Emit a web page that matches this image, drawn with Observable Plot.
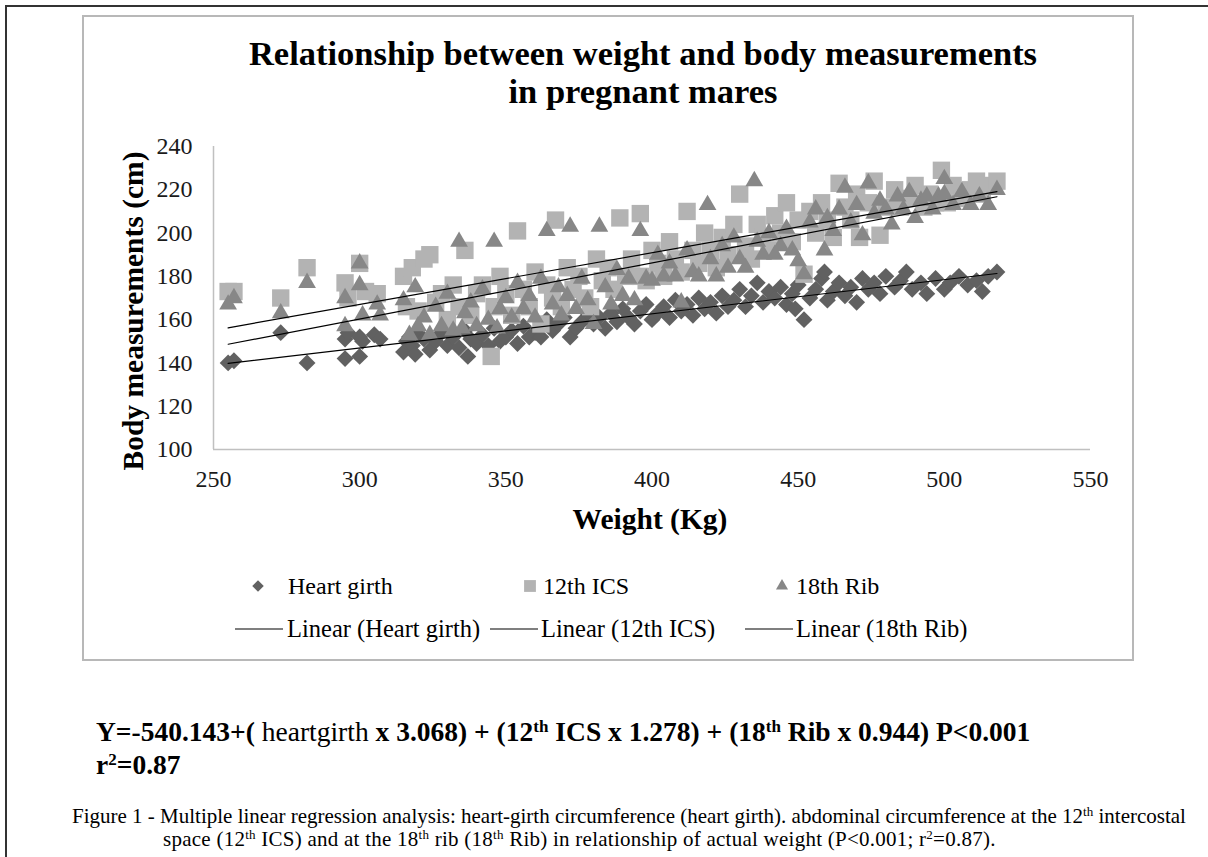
<!DOCTYPE html>
<html><head><meta charset="utf-8">
<script src="https://cdn.jsdelivr.net/npm/d3@7"></script>
<script src="https://cdn.jsdelivr.net/npm/@observablehq/plot@0.6"></script>
<style>
html,body{margin:0;padding:0;background:#fff;}
#page{position:relative;width:1208px;height:857px;overflow:hidden;font-family:"Liberation Serif","Times New Roman",serif;color:#000;}
.abs{position:absolute;white-space:nowrap;}
sup{font-size:0.62em;position:relative;top:-0.55em;vertical-align:baseline;line-height:0;}
</style></head><body><div id="page">
<div class="abs" style="left:6px;top:5px;width:1202px;height:2px;background:#333;"></div>
<div class="abs" style="left:5px;top:5px;width:2px;height:852px;background:#333;"></div>
<div class="abs" style="left:82px;top:15px;width:1052px;height:646px;box-sizing:border-box;border:2px solid #b8b8b8;"></div>
<div class="abs" id="title" style="left:118px;top:34px;width:1050px;text-align:center;font-size:34.5px;line-height:38px;font-weight:bold;"></div>
<div id="chart" class="abs" style="left:83px;top:120px;"></div>
<div class="abs" id="ylab" style="left:133px;top:311px;transform:translate(-50%,-50%) rotate(-90deg);font-size:29.5px;font-weight:bold;"></div>
<div class="abs" id="xlab" style="left:650px;top:519px;transform:translate(-50%,-50%);font-size:29.5px;font-weight:bold;"></div>
<div id="legend" class="abs" style="left:0;top:0;"></div>
<div class="abs" style="left:96px;top:715px;font-size:27.5px;font-weight:bold;line-height:33px;">Y=-540.143+(<span style="font-weight:normal"> heartgirth</span> x 3.068) + (12<sup>th</sup> ICS x 1.278) + (18<sup>th</sup> Rib x 0.944) P&lt;0.001<br>r<sup>2</sup>=0.87</div>
<div class="abs" style="left:72px;top:805px;font-size:21px;line-height:23px;">Figure 1 - Multiple linear regression analysis: heart-girth circumference (heart girth). abdominal circumference at the 12<sup>th</sup> intercostal</div>
<div class="abs" style="left:163px;top:828px;font-size:21px;line-height:23px;letter-spacing:0.25px;">space (12<sup>th</sup> ICS) and at the 18<sup>th</sup> rib (18<sup>th</sup> Rib) in relationship of actual weight (P&lt;0.001; r<sup>2</sup>=0.87).</div>
</div>
<script>
const titleLines = ["Relationship between weight and body measurements", "in pregnant mares"];
const xLabel = "Weight (Kg)";
const yLabel = "Body measurements (cm)";
const xTicks = [250, 300, 350, 400, 450, 500, 550];
const yTicks = [100, 120, 140, 160, 180, 200, 220, 240];
const seriesNames = ["Heart girth", "12th ICS", "18th Rib"];

// [weight (kg), measurement (cm)]
const heartGirth = [[255,140],[257,141],[273,154],[282,140],[295,142],[295,151],[296,154],[300,143],[300,152],[301,150],[305,153],[307,151],
[315,145],[316,150],[317,152],[318,148],[319,144],[320,153],[322,151],[324,146],[326,150],[328,154],[330,148],[332,152],[334,147],[336,155],[337,143],[338,151],[340,149],[342,153],[344,148],[346,156],[348,150],[350,152],[352,155],[354,149],[356,157],[358,152],[360,154],[362,152],[364,160],[366,155],[368,158],[370,161],[372,152],[374,156],[376,159],[378,163],
[380,158],[382,161],[384,156],[386,163],[388,159],[390,165],[392,161],[394,158],[396,164],[398,167],[400,160],[402,163],[404,166],[406,161],[408,169],[410,164],[412,167],[414,162],[416,170],[418,165],[420,168],[422,163],[424,171],[426,166],[428,169],
[430,174],[432,166],[434,171],[436,177],[438,168],[440,173],[442,170],[444,175],[446,167],[448,172],[449,165],[450,176],[452,160],[454,170],[456,174],[458,179],[459,182],[460,169],[462,173],[464,177],[466,171],[468,175],[470,168],
[472,179],[474,174],[476,177],[478,172],[480,180],[483,175],[485,178],[487,182],[489,174],[492,177],[494,172],[497,179],[500,174],[502,177],[505,180],[508,176],[511,178],[513,173],[515,180],[518,182]];

const ics12 = [[255,173],[257,173],[273,170],[282,184],[295,177],[296,170],[300,186],[302,173],[306,172],
[315,180],[316,166],[318,184],[320,164],[322,188],[324,190],[326,168],[328,172],[330,160],[332,176],[334,166],[336,192],[338,162],[340,172],[342,176],[345,143],[346,166],[348,180],[350,172],
[352,162],[354,201],[356,174],[358,166],[360,182],[362,158],[364,176],[366,170],[367,206],[369,166],[371,184],[373,174],[375,180],[377,170],[379,166],[381,188],[383,178],[385,184],[387,174],[389,207],[391,180],[393,188],[396,209],[396,180],[398,178],
[400,192],[402,186],[404,180],[406,196],[408,188],[410,182],[412,210],[414,192],[416,186],[418,200],[420,192],[422,184],[424,198],[426,190],[428,204],[430,218],[432,194],[434,188],[436,204],[438,198],[440,192],[442,208],[444,200],[446,214],[448,196],[450,206],
[452,181],[454,210],[456,200],[458,214],[460,206],[462,198],[464,223],[466,212],[468,206],[470,218],[471,198],[474,214],[476,224],[478,199],[480,212],[483,220],[485,212],[488,216],[490,222],[493,212],[495,218],[497,214],[499,229],[501,214],[503,222],[506,216],[509,220],[511,224],[513,218],[515,222],[518,224]];

const rib18 = [[255,167],[257,170],[273,163],[282,177],[295,170],[295,157],[300,186],[300,176],[301,162],[306,167],[307,162],
[315,169],[317,153],[319,175],[320,157],[322,161],[324,153],[326,166],[328,157],[330,172],[332,155],[334,196],[335,156],[336,163],[338,168],[340,157],[342,174],[344,160],[346,196],[347,156],[348,165],[350,170],
[352,161],[354,177],[356,165],[358,171],[360,161],[362,179],[364,201],[366,167],[368,175],[369,162],[371,171],[372,203],[374,165],[376,179],[378,169],[380,158],[382,203],[384,175],[386,167],[388,183],[390,171],[392,179],[394,169],[396,201],[398,179],
[400,178],[402,190],[404,180],[406,186],[408,180],[410,168],[412,192],[414,182],[416,180],[419,213],[420,188],[422,180],[424,194],[426,184],[428,198],[430,188],[432,184],[435,224],[436,196],[438,190],[440,200],[442,190],[444,194],[446,202],[448,192],[450,187],
[452,181],[454,205],[456,211],[459,192],[460,207],[462,201],[464,211],[466,221],[468,205],[470,213],[472,199],[474,223],[476,209],[478,215],[480,211],[482,204],[484,217],[486,211],[488,219],[490,207],[492,215],[494,217],[496,211],[498,217],[500,225],[500,218],[503,213],[506,219],[509,213],[512,217],[515,213],[518,220]];

const toRows = (arr) => arr.map(([w, v]) => ({w, v}));
const series = [
  {name: seriesNames[0], data: toRows(heartGirth), symbol: "diamond2", r: 7.6, fill: "#616161"},
  {name: seriesNames[1], data: toRows(ics12), symbol: "square", r: 9.8, fill: "#b3b3b3"},
  {name: seriesNames[2], data: toRows(rib18), symbol: "triangle", r: 6.6, fill: "#878787"}
];

document.getElementById("title").innerHTML = titleLines.join("<br>");
document.getElementById("xlab").textContent = xLabel;
document.getElementById("ylab").textContent = yLabel;

const marks = [
  Plot.ruleX([250], {stroke: "#c0c0c0", strokeWidth: 1.5}),
  Plot.ruleY([100], {stroke: "#c0c0c0", strokeWidth: 1.5}),
  ...series.map(s => Plot.dot(s.data, {x: "w", y: "v", symbol: s.symbol, r: s.r, fill: s.fill, stroke: "none"})),
  ...series.map(s => Plot.linearRegressionY(s.data, {x: "w", y: "v", stroke: "#000", strokeWidth: 1.2, ci: 0}))
];

const chart = Plot.plot({
  width: 1050, height: 430,
  marginLeft: 130, marginRight: 43, marginTop: 26, marginBottom: 101,
  x: {domain: [250, 550], ticks: xTicks, tickSize: 0, tickPadding: 20, label: null},
  y: {domain: [100, 240], ticks: yTicks, tickSize: 0, tickPadding: 21, label: null},
  style: {fontFamily: "Liberation Serif", fontSize: "24px", color: "#1a1a1a", background: "transparent", overflow: "visible"},
  marks
});
chart.querySelectorAll("g, text").forEach(el => {
  el.setAttribute("font-family", "Liberation Serif");
  el.style.setProperty("font-family", "'Liberation Serif', serif", "important");
});
chart.querySelectorAll("text").forEach(el => {
  el.style.setProperty("font-size", "24px", "important");
  el.style.setProperty("font-variant", "normal", "important");
});
document.getElementById("chart").appendChild(chart);

// legend
const legend = document.getElementById("legend");
const symX = [258, 530, 782], txt1X = [288, 543, 796];
const lineX = [[235, 283], [490, 538], [745, 793]], txt2X = [287, 541, 796];
const ns = "http://www.w3.org/2000/svg";
const svg = document.createElementNS(ns, "svg");
svg.setAttribute("width", 1208); svg.setAttribute("height", 857);
svg.style.position = "absolute"; svg.style.left = "0"; svg.style.top = "0";
const symMap = {diamond2: d3.symbolDiamond2, square: d3.symbolSquare, triangle: d3.symbolTriangle};
series.forEach((s, i) => {
  const p = document.createElementNS(ns, "path");
  p.setAttribute("d", d3.symbol(symMap[s.symbol], Math.PI * (s.r * 0.68) ** 2)());
  p.setAttribute("transform", `translate(${symX[i]},586)`);
  p.setAttribute("fill", s.fill);
  svg.appendChild(p);
  const t = document.createElementNS(ns, "text");
  t.setAttribute("x", txt1X[i]); t.setAttribute("y", 594);
  t.setAttribute("font-size", 24); t.setAttribute("font-family", "'Liberation Serif', serif");
  t.textContent = s.name; svg.appendChild(t);
  const l = document.createElementNS(ns, "line");
  l.setAttribute("x1", lineX[i][0]); l.setAttribute("x2", lineX[i][1]);
  l.setAttribute("y1", 629); l.setAttribute("y2", 629);
  l.setAttribute("stroke", "#000"); l.setAttribute("stroke-width", 1.2);
  svg.appendChild(l);
  const t2 = document.createElementNS(ns, "text");
  t2.setAttribute("x", txt2X[i]); t2.setAttribute("y", 637);
  t2.setAttribute("font-size", 24.5); t2.setAttribute("font-family", "'Liberation Serif', serif");
  t2.textContent = `Linear (${s.name})`; svg.appendChild(t2);
});
legend.appendChild(svg);
</script>
</body></html>
